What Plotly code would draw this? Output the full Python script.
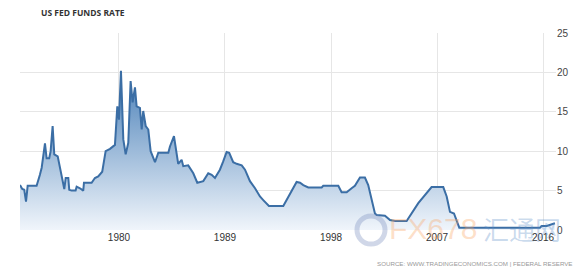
import plotly.graph_objects as go

# Data (decimal year, rate %)
years = [1971.60, 1971.79, 1971.96, 1972.11, 1972.25, 1973.01, 1973.29, 1973.44, 1973.72, 1973.86,
         1974.08, 1974.20, 1974.37, 1974.51, 1974.80, 1974.99, 1975.27, 1975.36, 1975.48, 1975.70,
         1975.78, 1975.98, 1976.32, 1976.41, 1976.69, 1976.97, 1977.03, 1977.68, 1977.96, 1978.24,
         1978.58, 1978.87, 1979.24, 1979.66, 1979.86, 1980.00, 1980.17, 1980.37, 1980.57, 1980.79,
         1980.99, 1981.16, 1981.36, 1981.50, 1981.78, 1981.93, 1982.06, 1982.27, 1982.49, 1982.69,
         1983.06, 1983.34, 1984.19, 1984.33, 1984.67, 1984.90, 1985.03, 1985.32, 1985.46, 1985.88,
         1986.31, 1986.65, 1987.16, 1987.58, 1987.87, 1988.15, 1988.57, 1988.85, 1989.14, 1989.36,
         1989.70, 1989.99, 1990.42, 1990.70, 1991.12, 1991.55, 1991.97, 1992.25, 1992.73, 1993.95,
         1994.66, 1995.08, 1995.37, 1995.65, 1996.07, 1997.21, 1997.34, 1998.62, 1998.90, 1999.33,
         1999.75, 2000.03, 2000.46, 2000.88, 2001.16, 2001.45, 2001.73, 2001.88, 2002.58, 2003.01,
         2003.43, 2004.42, 2005.41, 2006.54, 2007.53, 2007.82, 2008.10, 2008.44, 2008.67, 2008.89,
         2015.74, 2015.88, 2016.31, 2016.82, 2017.01]
rates = [5.7, 5.2, 5.1, 3.6, 5.6, 5.6, 7.0, 7.9, 11.0, 9.1,
         9.1, 10.0, 13.2, 9.6, 9.35, 7.9, 5.5, 5.2, 6.6, 6.6,
         5.1, 5.0, 5.0, 5.5, 5.3, 5.0, 6.0, 6.0, 6.6, 6.8,
         7.4, 10.0, 10.3, 10.8, 15.7, 14.0, 20.2, 11.5, 9.6, 11.05,
         18.9, 16.2, 18.1, 15.7, 15.5, 12.75, 15.1, 13.2, 12.75, 10.0,
         8.6, 9.8, 9.8, 10.6, 11.9, 9.8, 8.4, 8.9, 8.1, 8.2,
         7.2, 6.0, 6.2, 7.2, 7.0, 6.6, 7.65, 8.7, 9.9, 9.8,
         8.6, 8.4, 8.2, 7.65, 6.2, 5.3, 4.25, 3.8, 3.05, 3.05,
         4.9, 6.1, 6.0, 5.7, 5.4, 5.4, 5.6, 5.6, 4.8, 4.8,
         5.3, 5.6, 6.65, 6.65, 5.7, 3.8, 2.1, 1.9, 1.8, 1.27,
         1.15, 1.15, 3.4, 5.45, 5.45, 4.25, 2.3, 2.1, 1.06, 0.3,
         0.3, 0.5, 0.5, 0.72, 0.85]

x_ticks = [1980, 1989, 1998, 2007, 2016]
y_ticks = [0, 5, 10, 15, 20, 25]

title_text = "US FED FUNDS RATE"
source_text = "SOURCE: WWW.TRADINGECONOMICS.COM | FEDERAL RESERVE"

L, R, T, B = 20, 24, 33, 40
W, H = 580, 270
pw, ph = W - L - R, H - T - B

def px_x(p):
    return (p - L) / pw

def px_y(p):
    return (H - B - p) / ph

fig = go.Figure()
fig.add_trace(go.Scatter(
    x=years, y=rates, mode="lines",
    line=dict(color="#3b6ea5", width=2),
    fill="tozeroy",
    fillgradient=dict(type="vertical",
                      colorscale=[[0, "rgba(240,245,251,1)"], [1, "rgba(74,128,184,1)"]],
                      start=0, stop=20),
    hoverinfo="skip", showlegend=False,
))

fig.update_layout(
    width=W, height=H,
    margin=dict(l=L, r=R, t=T, b=B, pad=0),
    paper_bgcolor="white", plot_bgcolor="white",
    font=dict(family="Liberation Sans, Arial", size=10, color="#333"),
    xaxis=dict(range=[1971.6, 2017.1], tickvals=x_ticks, ticktext=[str(v) for v in x_ticks],
               showgrid=True, gridcolor="#e6e6e6", gridwidth=1, zeroline=False,
               showline=False, ticks="", tickfont=dict(size=10, color="#333")),
    yaxis=dict(range=[0, 25], tickvals=y_ticks, side="right",
               showgrid=True, gridcolor="#e6e6e6", gridwidth=1, zeroline=False,
               showline=False, ticks="", tickfont=dict(size=10, color="#444")),
)

# watermark (faint overlay, as in the reference)
fig.add_shape(type="circle", xref="paper", yref="paper",
              x0=px_x(357), x1=px_x(385), y0=px_y(244), y1=px_y(216),
              line=dict(color="rgba(120,140,190,0.35)", width=5), layer="above")
fig.add_annotation(text="FX678", xref="paper", yref="paper",
                   x=px_x(433), y=px_y(228), xanchor="center", yanchor="middle",
                   showarrow=False, font=dict(family="Liberation Sans", size=30,
                                              color="rgba(250,165,100,0.35)"))
fig.add_annotation(text="汇通网", xref="paper", yref="paper",
                   x=px_x(522), y=px_y(228), xanchor="center", yanchor="middle",
                   showarrow=False, font=dict(family="Noto Sans CJK SC", size=26,
                                              color="rgba(90,140,200,0.32)"))

fig.add_annotation(text="<b>" + title_text + "</b>", xref="paper", yref="paper",
                   x=px_x(39), y=px_y(12.5), xanchor="left", yanchor="middle",
                   showarrow=False, font=dict(family="Open Sans", size=8.5, color="#333"))
fig.add_annotation(text=source_text, xref="paper", yref="paper",
                   x=px_x(575), y=px_y(263), xanchor="right", yanchor="middle",
                   showarrow=False, font=dict(family="Liberation Sans", size=6.2, color="#999"))

fig.write_html("out.html")
